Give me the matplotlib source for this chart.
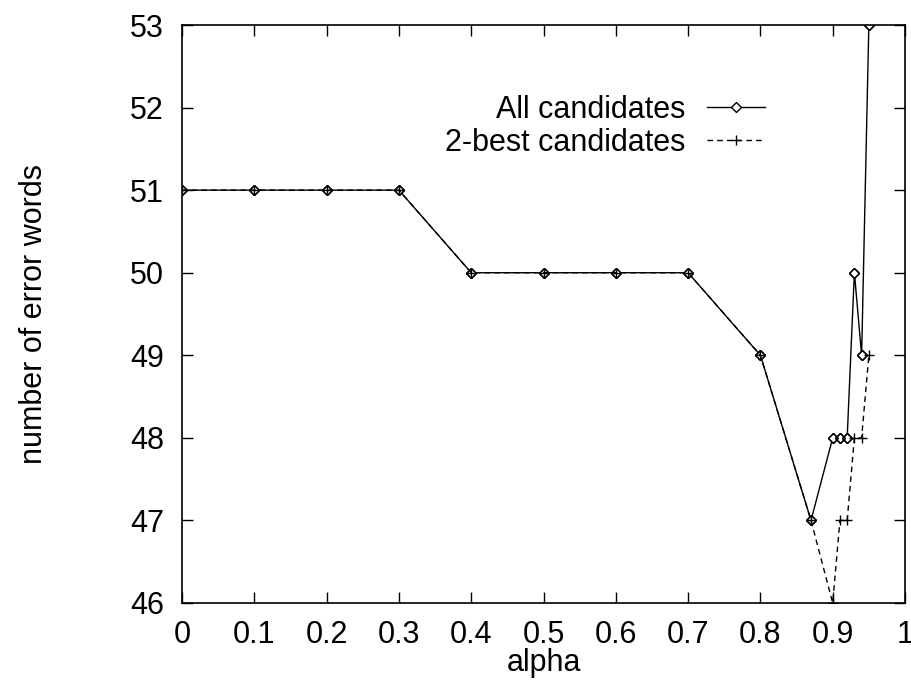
import matplotlib
matplotlib.use("Agg")
import matplotlib.pyplot as plt

plt.rcParams['font.family'] = ['Liberation Sans', 'DejaVu Sans']

alpha_all = [0, 0.1, 0.2, 0.3, 0.4, 0.5, 0.6, 0.7, 0.8, 0.87, 0.9, 0.91, 0.92, 0.93, 0.94, 0.95]
err_all = [51, 51, 51, 51, 50, 50, 50, 50, 49, 47, 48, 48, 48, 50, 49, 53]

alpha_best = [0, 0.1, 0.2, 0.3, 0.4, 0.5, 0.6, 0.7, 0.8, 0.87, 0.9, 0.91, 0.92, 0.93, 0.94, 0.95]
err_best = [51, 51, 51, 51, 50, 50, 50, 50, 49, 47, 46, 47, 47, 48, 48, 49]

xticks = [0, 0.1, 0.2, 0.3, 0.4, 0.5, 0.6, 0.7, 0.8, 0.9, 1]
yticks = [46, 47, 48, 49, 50, 51, 52, 53]

fig = plt.figure(figsize=(9.11, 6.82), dpi=100)
ax = fig.add_axes([182 / 911, 1 - 603 / 682, (905 - 182) / 911, (603 - 25) / 682])

ax.plot(alpha_all, err_all, color='black', linewidth=1, marker='D', markersize=5,
        markerfacecolor='white', markeredgecolor='black', markeredgewidth=1, label='All candidates')
ax.plot(alpha_best, err_best, color='black', linewidth=1, linestyle=(0, (4, 3)), marker='+',
        markersize=7, markeredgewidth=1, label='2-best candidates')
# diamonds again on top so the crosses show through
ax.plot(alpha_all, err_all, linestyle='none', marker='D', markersize=5,
        markerfacecolor='none', markeredgecolor='black', markeredgewidth=1)

ax.set_xlim(0, 1)
ax.set_ylim(46, 53)
ax.set_xticks(xticks)
ax.set_xticklabels([str(t) for t in xticks])
ax.set_yticks(yticks)
ax.tick_params(direction='in', length=8, width=1, top=True, right=True, labelsize=22)
ax.tick_params(axis='x', pad=12)
ax.tick_params(axis='y', pad=13)
for s in ax.spines.values():
    s.set_linewidth(1.2)

ax.set_xlabel('alpha', fontsize=22, labelpad=-1)
ax.set_ylabel('number of error words', fontsize=22, labelpad=58)

ax.legend(loc='upper right', bbox_to_anchor=(0.806, 0.879), frameon=False, markerfirst=False,
          fontsize=22, handlelength=1.9, handletextpad=0.7, labelspacing=0.1,
          borderaxespad=0, borderpad=0)

fig.savefig('out.png', dpi=100)
